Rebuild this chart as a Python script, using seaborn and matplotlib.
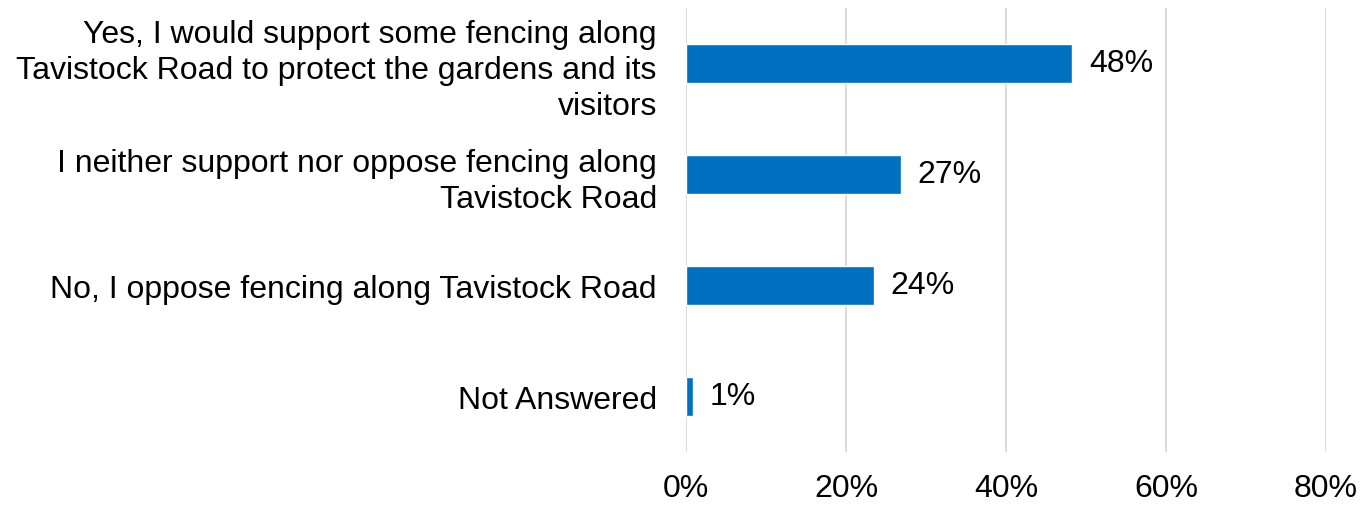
import matplotlib
matplotlib.use("Agg")
import matplotlib.pyplot as plt
import seaborn as sns
import pandas as pd
from matplotlib.ticker import FuncFormatter

# Antworten und Anteile (in Prozent)
answers = [
    "Yes, I would support some fencing along\nTavistock Road to protect the gardens and its\nvisitors",
    "I neither support nor oppose fencing along\nTavistock Road",
    "No, I oppose fencing along Tavistock Road",
    "Not Answered",
]
shares = [48.3, 26.9, 23.5, 0.9]
x_ticks = [0, 20, 40, 60, 80]

df = pd.DataFrame({"answer": answers, "share": shares})

sns.set_theme(style="white")
plt.rcParams["font.family"] = ["Liberation Sans", "DejaVu Sans"]

fig = plt.figure(figsize=(13.62, 5.06), dpi=100)
ax = fig.add_axes([686 / 1362, 1 - 453 / 506, 640 / 1362, 444 / 506])

sns.barplot(data=df, x="share", y="answer", color="#0070C0", saturation=1,
            width=0.36, orient="h", ax=ax)

ax.set_xlim(0, 80)
ax.set_xticks(x_ticks)
ax.xaxis.set_major_formatter(FuncFormatter(lambda v, p: f"{v:.0f}%"))
ax.grid(axis="x", color="#D9D9D9", linewidth=1.3)
ax.set_axisbelow(True)
for s in ax.spines.values():
    s.set_visible(False)
ax.set_xlabel("")
ax.set_ylabel("")
ax.tick_params(axis="x", length=0, pad=15, labelsize=23, labelcolor="#000000")
ax.tick_params(axis="y", length=0, pad=21, labelsize=23, labelcolor="#000000")
for lbl in ax.get_yticklabels():
    lbl.set_linespacing(1.27)
    lbl.set_horizontalalignment("right")
    lbl.set_multialignment("right")

# Werte neben die Balken schreiben
for i, v in enumerate(shares):
    ax.annotate(f"{v:.0f}%", xy=(v, i), xytext=(12, 0), textcoords="offset points",
                ha="left", va="center", fontsize=23, color="#000000")

fig.savefig("out.png", dpi=100)
